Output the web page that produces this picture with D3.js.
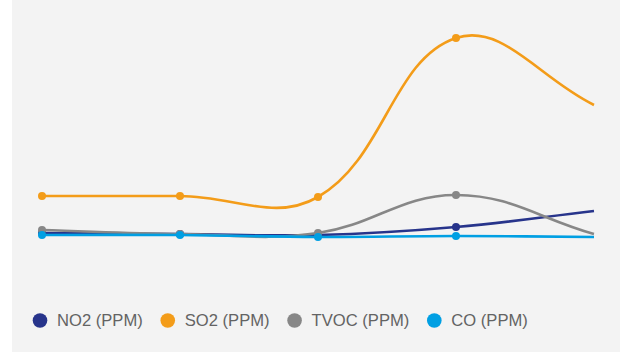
<!DOCTYPE html>
<html>
<head>
<meta charset="utf-8">
<script src="https://cdn.jsdelivr.net/npm/d3@7"></script>
<style>
  html, body { margin: 0; padding: 0; background: #ffffff; }
  svg { display: block; }
</style>
</head>
<body>
<svg id="chart" width="627" height="352"></svg>
<script>
// Readings per sampling period
const categories = ["1", "2", "3", "4", "5"];
const seriesNames = ["NO2 (PPM)", "SO2 (PPM)", "TVOC (PPM)", "CO (PPM)"];
const no2Values  = [0.04, 0.03, 0.02, 0.10, 0.26];
const so2Values  = [0.41, 0.41, 0.40, 1.99, 1.32];
const tvocValues = [0.07, 0.03, 0.04, 0.42, 0.03];
const coValues   = [0.02, 0.02, 0.00, 0.01, 0.00];
const seriesColors = ["#27348b", "#f39c19", "#878787", "#009fe3"];

const series = [no2Values, so2Values, tvocValues, coValues].map((values, i) => ({
  name: seriesNames[i],
  color: seriesColors[i],
  values
}));

const svg = d3.select("#chart");
const H = 352;

// panel background
svg.append("rect")
  .attr("x", 12).attr("y", 0)
  .attr("width", 608).attr("height", H)
  .attr("fill", "#f3f3f3");

const x = d3.scalePoint().domain(categories).range([42, 594]);
const y = d3.scaleLinear().domain([0, 2]).range([237, 37]);

// Tension spline with distance-weighted control points
function weightedSpline(tension) {
  return function(context) {
    let pts;
    return {
      areaStart() {}, areaEnd() {},
      lineStart() { pts = []; },
      point(px, py) { pts.push([+px, +py]); },
      lineEnd() {
        const n = pts.length;
        if (!n) return;
        const cps = pts.map((p, i) => {
          const prev = pts[i - 1] || p, next = pts[i + 1] || p;
          const d01 = Math.hypot(p[0] - prev[0], p[1] - prev[1]);
          const d12 = Math.hypot(next[0] - p[0], next[1] - p[1]);
          let s01 = d01 / (d01 + d12), s12 = d12 / (d01 + d12);
          if (!isFinite(s01)) s01 = 0;
          if (!isFinite(s12)) s12 = 0;
          const fa = tension * s01, fb = tension * s12;
          const dx = next[0] - prev[0], dy = next[1] - prev[1];
          return {
            prev: [p[0] - fa * dx, p[1] - fa * dy],
            next: [p[0] + fb * dx, p[1] + fb * dy]
          };
        });
        context.moveTo(pts[0][0], pts[0][1]);
        for (let i = 1; i < n; i++) {
          context.bezierCurveTo(
            cps[i - 1].next[0], cps[i - 1].next[1],
            cps[i].prev[0], cps[i].prev[1],
            pts[i][0], pts[i][1]);
        }
      }
    };
  };
}

const line = d3.line()
  .x((d, i) => x(categories[i]))
  .y(d => y(d))
  .curve(weightedSpline(0.4));

const plot = svg.append("g");
series.forEach(s => {
  const g = plot.append("g");
  g.append("path")
    .attr("d", line(s.values))
    .attr("fill", "none")
    .attr("stroke", s.color)
    .attr("stroke-width", 2.6);
  // markers on every reading except the latest one
  g.selectAll("circle")
    .data(s.values.slice(0, -1))
    .join("circle")
    .attr("cx", (d, i) => x(categories[i]))
    .attr("cy", d => y(d))
    .attr("r", 4)
    .attr("fill", s.color);
});

// legend
const legend = svg.append("g").attr("transform", "translate(0,320.5)");
let lx = 33;
series.forEach(s => {
  const item = legend.append("g");
  item.append("circle")
    .attr("cx", lx + 7).attr("cy", 0).attr("r", 7.3)
    .attr("fill", s.color);
  const t = item.append("text")
    .attr("x", lx + 24).attr("y", 0)
    .attr("dy", "0.36em")
    .attr("font-family", "'Liberation Sans', Arial, sans-serif")
    .attr("font-size", 16.6)
    .attr("fill", "#636363")
    .text(s.name);
  lx = lx + 24 + t.node().getComputedTextLength() + 18;
});
</script>
</body>
</html>
